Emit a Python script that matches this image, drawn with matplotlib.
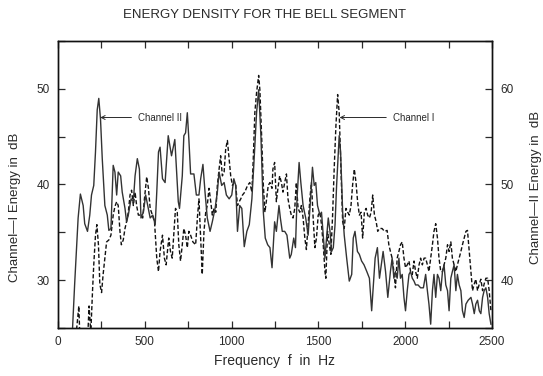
import numpy as np
import matplotlib
matplotlib.use("Agg")
import matplotlib.pyplot as plt
from matplotlib.ticker import MultipleLocator

plt.rcParams['font.family'] = ['Liberation Sans', 'DejaVu Sans']

# Channel I (dashed, left axis, dB)
freq_1 = [100, 120, 127, 170, 179, 189, 199, 206, 216, 224, 233, 241, 251, 260, 270, 280, 293, 305,
          318, 328, 338, 347, 357, 365, 376, 386, 395, 405, 415, 424, 434, 444, 453, 463, 476, 488,
          498, 511, 521, 531, 544, 556, 569, 579, 588, 602, 613, 623, 638, 648, 658, 667, 677, 687,
          696, 706, 716, 725, 735, 745, 754, 764, 777, 793, 803, 812, 822, 831, 841, 851, 860, 870,
          880, 889, 899, 909, 918, 928, 937, 947, 957, 966, 976, 986, 995, 1005, 1015, 1024, 1034,
          1044, 1053, 1063, 1076, 1092, 1105, 1117, 1125, 1134, 1144, 1156, 1163, 1173, 1183, 1192,
          1202, 1211, 1221, 1233, 1238, 1248, 1258, 1267, 1277, 1287, 1296, 1306, 1316, 1325, 1335,
          1344, 1354, 1364, 1373, 1383, 1393, 1402, 1412, 1422, 1431, 1441, 1451, 1460, 1470, 1480,
          1489, 1499, 1509, 1518, 1528, 1538, 1543, 1553, 1563, 1572, 1582, 1591, 1601, 1611, 1620,
          1630, 1640, 1649, 1659, 1669, 1678, 1688, 1697, 1707, 1717, 1726, 1736, 1746, 1755, 1765,
          1775, 1784, 1794, 1804, 1813, 1823, 1833, 1842, 1852, 1867, 1881, 1896, 1906, 1915, 1925,
          1935, 1944, 1954, 1964, 1973, 1983, 1993, 2002, 2012, 2022, 2031, 2041, 2051, 2060, 2070,
          2080, 2089, 2099, 2109, 2118, 2128, 2137, 2147, 2157, 2166, 2176, 2186, 2195, 2205, 2215,
          2224, 2234, 2244, 2253, 2263, 2272, 2282, 2292, 2301, 2311, 2321, 2330, 2340, 2350, 2359,
          2369, 2379, 2388, 2398, 2407, 2417, 2427, 2436, 2446, 2455, 2465, 2475, 2484, 2494]
level_1 = [23.5, 27.3, 23.5, 23.5, 27.3, 24.5, 28.9, 31.6, 34.7, 35.8, 33.7, 29.6, 28.7, 30.6, 32.3,
           34.0, 34.2, 34.7, 36.8, 37.7, 38.2, 37.8, 35.1, 33.7, 34.2, 35.4, 36.1, 37.1, 38.9, 39.4,
           37.8, 39.2, 37.8, 36.8, 36.8, 36.5, 38.5, 40.8, 39.6, 37.5, 36.8, 36.1, 32.3, 30.9, 33.0,
           34.7, 32.3, 31.6, 34.4, 33.0, 32.3, 34.7, 37.5, 37.1, 33.7, 32.0, 33.7, 35.4, 34.7, 33.4,
           35.1, 34.7, 34.0, 33.7, 36.5, 38.5, 34.4, 30.6, 35.1, 37.1, 37.8, 39.6, 38.2, 36.8, 37.5,
           37.1, 39.9, 41.6, 43.0, 40.9, 41.3, 43.7, 44.6, 42.7, 40.9, 39.9, 40.2, 39.9, 37.8, 38.2,
           38.5, 38.9, 39.2, 39.9, 40.2, 39.2, 42.7, 47.5, 49.6, 51.4, 49.9, 45.1, 39.9, 37.1, 38.5,
           39.9, 40.2, 39.6, 41.6, 42.3, 38.2, 39.6, 40.9, 40.2, 39.2, 40.2, 41.1, 38.5, 37.5, 36.8,
           36.5, 37.5, 40.2, 37.5, 37.1, 37.8, 36.5, 34.4, 33.2, 35.8, 38.5, 40.2, 36.5, 33.4, 34.4,
           36.8, 37.1, 35.8, 33.7, 30.9, 30.2, 35.1, 33.7, 32.7, 36.8, 41.6, 46.1, 49.4, 47.5, 41.6,
           36.1, 35.4, 37.5, 37.1, 36.8, 37.8, 39.9, 41.6, 40.2, 38.2, 36.8, 37.1, 34.4, 37.1, 37.5,
           36.8, 36.5, 37.1, 38.9, 36.8, 36.1, 35.1, 35.4, 35.4, 35.1, 35.2, 33.7, 33.0, 32.3, 30.9,
           29.2, 32.3, 33.0, 33.7, 34.0, 32.3, 31.3, 31.6, 32.0, 30.9, 30.6, 32.0, 30.9, 30.2, 31.6,
           32.3, 31.6, 32.3, 32.3, 31.6, 30.9, 32.3, 33.7, 35.1, 35.9, 34.4, 32.3, 30.9, 30.9, 31.6,
           32.3, 33.7, 33.0, 34.0, 32.3, 31.6, 30.9, 31.6, 32.3, 33.0, 33.7, 34.4, 35.1, 35.2, 33.0,
           30.9, 28.9, 29.6, 30.1, 28.9, 29.6, 30.1, 28.9, 29.6, 30.2, 30.2, 28.9, 26.8]

# Channel II (solid, right axis, dB)
freq_2 = [80, 96, 116, 129, 145, 154, 170, 183, 193, 206, 216, 226, 235, 245, 255, 270, 284, 293,
          305, 318, 328, 338, 347, 361, 370, 386, 395, 405, 421, 434, 444, 457, 469, 478, 492, 505,
          517, 531, 546, 560, 569, 579, 588, 602, 617, 635, 654, 673, 693, 700, 716, 725, 735, 745,
          754, 764, 783, 797, 812, 822, 835, 847, 860, 876, 889, 905, 918, 928, 943, 957, 970, 986,
          1001, 1013, 1024, 1034, 1047, 1059, 1073, 1088, 1102, 1117, 1130, 1144, 1156, 1169, 1183,
          1194, 1208, 1221, 1233, 1248, 1258, 1273, 1281, 1292, 1306, 1319, 1335, 1344, 1358, 1368,
          1377, 1389, 1399, 1412, 1427, 1441, 1455, 1466, 1476, 1485, 1495, 1509, 1518, 1528, 1538,
          1547, 1557, 1567, 1576, 1586, 1596, 1605, 1615, 1620, 1628, 1640, 1649, 1663, 1678, 1692,
          1701, 1711, 1725, 1736, 1749, 1763, 1779, 1794, 1807, 1817, 1827, 1840, 1852, 1873, 1887,
          1900, 1915, 1925, 1935, 1944, 1954, 1964, 1973, 1983, 1993, 2002, 2012, 2022, 2031, 2041,
          2051, 2060, 2074, 2089, 2105, 2118, 2128, 2137, 2147, 2157, 2166, 2176, 2186, 2195, 2205,
          2215, 2224, 2234, 2244, 2253, 2263, 2272, 2282, 2292, 2301, 2311, 2321, 2330, 2340, 2350,
          2363, 2379, 2388, 2398, 2407, 2417, 2427, 2436, 2446, 2455, 2465, 2475, 2484, 2494]
level_2 = [33.5, 39.6, 46.5, 49.0, 47.8, 45.9, 45.1, 46.8, 48.9, 49.9, 53.4, 57.8, 59.0, 56.8, 52.7,
           47.8, 46.8, 45.2, 45.4, 52.0, 51.3, 48.9, 51.3, 50.9, 49.2, 47.5, 46.1, 46.8, 48.5, 48.2,
           50.9, 52.7, 51.6, 46.5, 47.1, 48.9, 47.8, 46.5, 46.8, 45.8, 49.2, 53.4, 53.9, 50.6, 50.2,
           55.1, 53.0, 54.7, 48.2, 47.5, 50.9, 55.1, 55.4, 57.5, 54.7, 51.1, 51.1, 48.9, 48.9, 50.6,
           52.1, 49.2, 46.5, 45.1, 46.1, 47.5, 49.2, 51.3, 49.9, 50.2, 48.9, 48.5, 48.9, 50.6, 49.9,
           45.1, 47.8, 47.5, 43.5, 45.1, 45.8, 48.5, 52.7, 57.5, 59.9, 55.1, 47.1, 44.4, 43.7, 43.4,
           41.3, 46.1, 45.1, 47.8, 46.5, 45.1, 45.1, 44.7, 42.3, 42.7, 44.4, 43.4, 48.5, 52.3, 50.2,
           47.8, 46.5, 44.7, 48.5, 51.8, 49.9, 50.2, 47.8, 46.8, 47.1, 44.7, 42.3, 44.4, 46.5, 45.1,
           43.0, 43.4, 45.8, 49.9, 53.4, 55.1, 53.4, 47.1, 44.7, 42.3, 39.9, 40.6, 44.4, 45.1, 43.0,
           42.7, 42.0, 41.6, 40.9, 40.2, 36.8, 39.6, 42.3, 43.4, 40.2, 43.0, 40.9, 38.2, 40.9, 42.3,
           40.2, 40.9, 40.2, 42.3, 40.2, 40.6, 38.2, 36.8, 38.9, 40.6, 40.9, 40.2, 39.9, 39.5, 39.5,
           39.2, 39.2, 40.6, 38.9, 37.5, 35.4, 38.9, 40.6, 38.2, 40.6, 40.2, 38.9, 40.9, 41.6, 39.5,
           38.9, 36.8, 40.2, 40.9, 41.6, 38.9, 40.6, 39.5, 38.9, 36.8, 36.1, 37.5, 37.9, 38.2, 37.5,
           36.5, 37.5, 37.9, 36.8, 36.5, 38.2, 38.9, 39.2, 38.2, 36.5, 35.4]

ink = '#2a2a2a'

fig = plt.figure(figsize=(5.43, 3.76), dpi=100)
ax = fig.add_axes([0.1068, 0.1277, 0.7992, 0.7633])
ax2 = ax.twinx()

ax.plot(freq_1, level_1, color='#111111', lw=1.0, linestyle=(0, (3, 1.6)))
ax2.plot(freq_2, level_2, color='#333333', lw=1.0)

ax.set_xlim(0, 2500)
ax.set_ylim(25, 55)
ax2.set_ylim(35, 65)

ax.xaxis.set_major_locator(MultipleLocator(500))
ax.xaxis.set_minor_locator(MultipleLocator(250))
ax.yaxis.set_major_locator(MultipleLocator(10))
ax.yaxis.set_minor_locator(MultipleLocator(5))
ax2.yaxis.set_major_locator(MultipleLocator(10))
ax2.yaxis.set_minor_locator(MultipleLocator(5))

ax.tick_params(which='both', direction='in', top=True, right=False, length=5, width=0.9,
               labelsize=8.5, colors=ink, pad=6)
ax2.tick_params(which='both', direction='in', length=5, width=0.9, labelsize=8.5, colors=ink, pad=6)

for a in (ax, ax2):
    for s in a.spines.values():
        s.set_linewidth(1.0)
        s.set_color('#111111')

ax.set_xlabel('Frequency  f  in  Hz', fontsize=10, color=ink, labelpad=4)
ax.set_ylabel('Channel\u2014I Energy in  dB', fontsize=9.5, color=ink)
ax.yaxis.set_label_coords(-0.085, 0.42)
ax2.set_ylabel('Channel\u2014II Energy in  dB', fontsize=9.5, color=ink, rotation=90)
ax2.yaxis.set_label_coords(1.088, 0.49)

fig.suptitle('ENERGY DENSITY FOR THE BELL SEGMENT', x=0.488, y=0.975, fontsize=9.5, color=ink)

ax.annotate('Channel II', xy=(243, 47.0), xytext=(463, 47.0), fontsize=7, color=ink,
            va='center', ha='left',
            arrowprops=dict(arrowstyle='->', color=ink, lw=0.7, shrinkA=3, shrinkB=0))
ax.annotate('Channel I', xy=(1622, 47.0), xytext=(1931, 47.0), fontsize=7, color=ink,
            va='center', ha='left',
            arrowprops=dict(arrowstyle='->', color=ink, lw=0.7, shrinkA=3, shrinkB=0))

fig.savefig('out.png', dpi=100)
